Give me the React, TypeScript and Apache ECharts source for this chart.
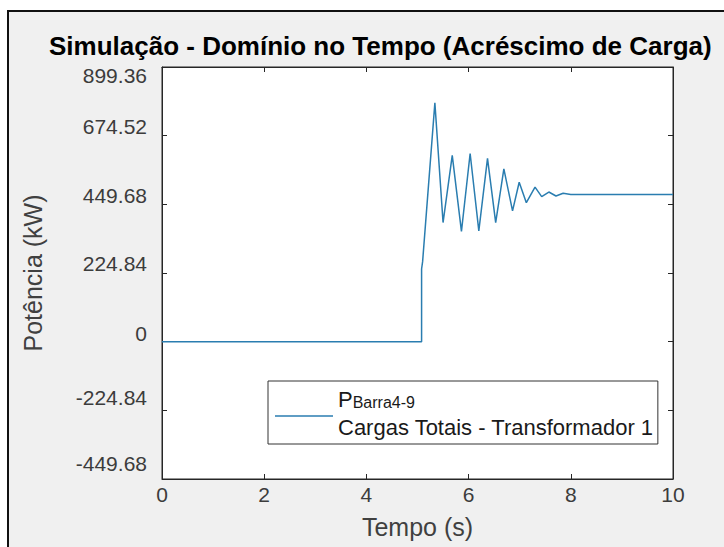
import React, { useEffect, useRef } from 'react';
import * as echarts from 'echarts';

const timeS = [0, 5.08, 5.08, 5.1, 5.34, 5.5, 5.68, 5.86, 6.03, 6.2, 6.37, 6.53, 6.69, 6.86, 6.99, 7.13, 7.3, 7.43, 7.57, 7.71, 7.85, 8.0, 10];
const powerKW = [0, 0, 238, 262, 782, 390, 610, 361, 616, 363, 600, 390, 566, 428, 522, 455, 506, 475, 490, 477, 486, 482, 482];

const yMin = -449.68;
const yMax = 899.36;
const yStep = 224.84;
const xMin = 0;
const xMax = 10;
const xStep = 2;

const titleText = 'Simulação - Domínio no Tempo (Acréscimo de Carga)';
const xName = 'Tempo (s)';
const yName = 'Potência (kW)';
const seriesName = 'P';
const legendSub = 'Barra4-9';
const legendLine2 = 'Cargas Totais - Transformador 1';

// vertical label nudges (padding top/bottom) per tick index, bottom to top
const labelPads = [
  [0, 0, 32, 0],
  [0, 0, 26, 0],
  [0, 0, 16, 0],
  [0, 0, 20, 0],
  [0, 0, 18, 0],
  [0, 0, 18, 0],
  [16, 0, 0, 0],
];

export default function App() {
  const ref = useRef<HTMLDivElement>(null);
  useEffect(() => {
    const chart = echarts.init(ref.current!, null, { renderer: 'svg' });
    const tickColor = '#3c3c3c';
    const font = 'Liberation Sans, Arial, sans-serif';
    const rich: Record<string, any> = {};
    labelPads.forEach((p, i) => {
      rich['r' + i] = { fontSize: 21, color: tickColor, padding: p, fontFamily: font };
    });
    const data = timeS.map((t, i) => [t, powerKW[i]]);
    const axisLine = { show: true, onZero: false, lineStyle: { color: '#262626' } };
    const axisTick = { show: true, inside: true, length: 5, lineStyle: { color: '#262626' } };
    chart.setOption({
      animation: false,
      backgroundColor: '#ffffff',
      textStyle: { fontFamily: font },
      graphic: [
        {
          type: 'rect',
          z: -10,
          shape: { x: 8, y: 11, width: 800, height: 600 },
          style: { fill: '#f0f0f0', stroke: '#111111', lineWidth: 2 },
        },
      ],
      title: {
        text: titleText,
        left: 49,
        top: 33,
        padding: 0,
        textStyle: { fontSize: 26, fontWeight: 'bold', color: '#000000', fontFamily: font },
      },
      grid: {
        left: 162,
        right: 51,
        top: 67,
        bottom: 68,
        show: true,
        backgroundColor: '#ffffff',
        borderColor: '#262626',
        borderWidth: 1,
      },
      xAxis: [
        {
          type: 'value',
          min: xMin,
          max: xMax,
          interval: xStep,
          name: xName,
          nameLocation: 'middle',
          nameGap: 35,
          nameTextStyle: { fontSize: 25, color: '#404040' },
          axisLine,
          axisTick,
          axisLabel: { fontSize: 21, color: tickColor, margin: 5 },
          splitLine: { show: false },
        },
        {
          type: 'value',
          position: 'top',
          min: xMin,
          max: xMax,
          interval: xStep,
          axisLine,
          axisTick,
          axisLabel: { show: false },
          splitLine: { show: false },
        },
      ],
      yAxis: [
        {
          type: 'value',
          min: yMin,
          max: yMax,
          interval: yStep,
          name: yName,
          nameLocation: 'middle',
          nameGap: 117,
          nameTextStyle: { fontSize: 25, color: '#404040' },
          axisLine,
          axisTick,
          axisLabel: {
            margin: 15,
            formatter: (v: number, i: number) => {
              const s = String(Math.round(v * 100) / 100);
              return '{r' + Math.min(i, 6) + '|' + s + '}';
            },
            rich,
          },
          splitLine: { show: false },
        },
        {
          type: 'value',
          position: 'right',
          min: yMin,
          max: yMax,
          interval: yStep,
          axisLine,
          axisTick,
          axisLabel: { show: false },
          splitLine: { show: false },
        },
      ],
      legend: {
        data: [{ name: seriesName, icon: 'rect' }],
        left: 268,
        top: 381,
        orient: 'vertical',
        padding: [7, 4, 6, 7],
        itemWidth: 58,
        itemHeight: 1.5,
        backgroundColor: '#ffffff',
        borderColor: '#333333',
        borderWidth: 1,
        borderRadius: 0,
        formatter: () => '{p|P}{sub|' + legendSub + '}\n{t|' + legendLine2 + '}',
        textStyle: {
          color: '#1a1a1a',
          rich: {
            p: { fontSize: 22, lineHeight: 22, padding: [0, 0, 11, 0], verticalAlign: 'top', color: '#1a1a1a' },
            sub: { fontSize: 16, lineHeight: 16, verticalAlign: 'bottom', color: '#1a1a1a' },
            t: { fontSize: 22, lineHeight: 34, color: '#1a1a1a' },
          },
        },
      },
      series: [
        {
          name: seriesName,
          type: 'line',
          data,
          showSymbol: false,
          symbol: 'none',
          lineStyle: { color: '#2a7db0', width: 1.5 },
          itemStyle: { color: '#2a7db0' },
          xAxisIndex: 0,
          yAxisIndex: 0,
        },
      ],
    });
    return () => chart.dispose();
  }, []);
  return <div ref={ref} style={{ position: 'fixed', left: 0, top: 0, width: 724, height: 547 }} />;
}
